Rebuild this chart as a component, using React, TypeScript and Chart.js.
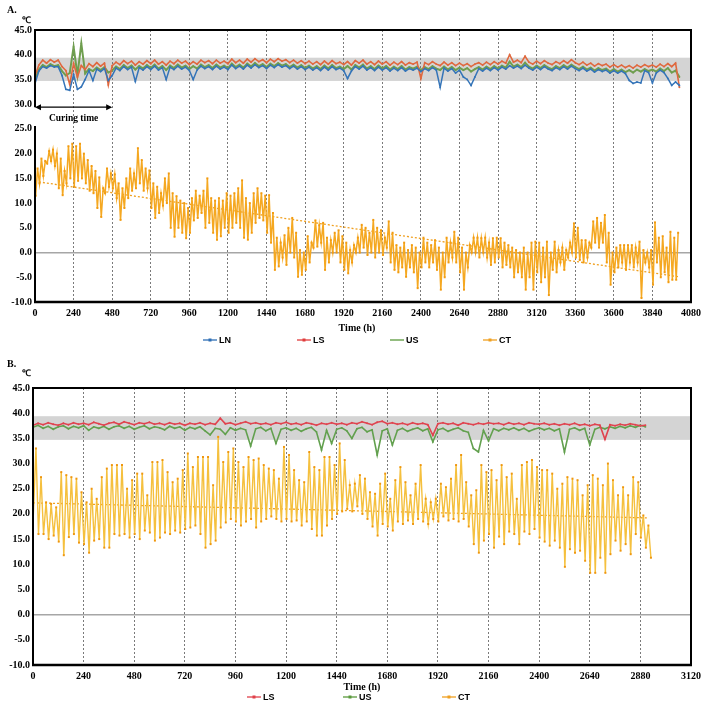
import React, { useEffect, useRef } from "react";
import { Chart, registerables } from "chart.js";
Chart.register(...registerables);

// ---------------- data ----------------
const STEP_H = 24; // one reading per day per array entry
const X_TICK_STEP = 240;
const Y_MIN = -10;
const Y_MAX = 45;
const Y_TICK_STEP = 5;
const BAND = [34.7, 39.4]; // shaded normal range (℃)

// Panel A
const A_X_MAX = 4080;
const A_LN = [
  34.2, 36.7, 37.6, 37.3, 37.8, 37.5, 37.6, 35.8, 33.0, 32.8,
  36.0, 33.0, 33.5, 35.0, 36.8, 34.8, 37.1, 36.6, 37.2, 34.8,
  35.8, 37.3, 36.8, 37.6, 37.0, 37.5, 34.6, 37.4, 36.9, 37.6,
  37.0, 37.7, 36.9, 37.4, 35.0, 37.5, 37.0, 37.7, 37.1, 37.5,
  36.8, 35.0, 36.9, 37.7, 37.2, 37.6, 37.0, 37.7, 37.1, 37.5,
  37.0, 37.9, 37.2, 37.7, 37.1, 37.9, 37.3, 38.0, 37.4, 37.8,
  37.2, 37.9, 37.4, 38.0, 37.5, 37.8, 37.2, 37.7, 37.1, 37.6,
  37.0, 37.5, 36.9, 37.4, 36.8, 37.5, 36.9, 37.6, 37.0, 37.3,
  36.8, 35.2, 36.7, 37.6, 37.1, 37.7, 36.9, 37.4, 36.8, 37.5,
  36.9, 37.4, 36.7, 37.3, 36.8, 37.4, 36.7, 37.2, 36.9, 37.3,
  36.6, 37.2, 36.8, 37.4, 36.9, 33.4, 37.3, 36.7, 37.2, 36.3,
  36.9, 35.5, 35.0, 33.8, 35.5, 37.2, 36.7, 37.3, 36.8, 37.4,
  36.9, 37.5, 37.1, 37.8, 37.3, 37.7, 37.2, 37.9, 37.3, 36.9,
  37.5, 37.0, 37.6, 37.1, 36.8, 37.4, 37.0, 37.6, 37.1, 37.7,
  37.2, 36.8, 37.3, 36.7, 37.1, 36.5, 37.0, 36.6, 36.9, 36.3,
  36.8, 36.3, 36.7, 36.2, 34.8, 34.2, 34.5, 34.3, 36.8, 36.4,
  34.3, 36.3, 36.9, 36.4, 35.2, 33.8, 34.5, 33.8,
];
const A_LS = [
  35.8, 37.9, 38.9, 38.3, 39.0, 38.5, 38.9, 37.6, 36.8, 34.0,
  38.2, 35.5, 37.8, 37.0, 38.2, 37.6, 38.4, 37.7, 38.3, 33.9,
  37.8, 38.5, 38.0, 38.8, 38.2, 38.7, 37.9, 38.6, 38.1, 38.8,
  38.2, 38.9, 38.1, 38.6, 37.9, 38.7, 38.2, 38.9, 38.3, 38.7,
  38.0, 38.6, 38.1, 38.9, 38.4, 38.8, 38.2, 38.9, 38.3, 38.7,
  38.2, 39.1, 38.4, 38.9, 38.3, 39.1, 38.5, 39.2, 38.6, 39.0,
  38.4, 39.1, 38.6, 39.2, 38.7, 39.0, 38.4, 38.9, 38.3, 38.8,
  38.2, 38.7, 38.1, 38.6, 38.0, 38.7, 38.1, 38.8, 38.2, 38.5,
  38.0, 38.6, 37.9, 38.8, 38.3, 38.9, 38.1, 38.6, 38.0, 38.7,
  38.1, 38.6, 37.9, 38.5, 38.0, 38.6, 37.9, 38.4, 38.1, 38.5,
  35.2, 38.4, 38.0, 38.6, 38.1, 37.8, 38.5, 37.9, 38.4, 37.8,
  38.3, 37.8, 38.2, 37.6, 38.1, 38.4, 37.9, 38.5, 38.0, 38.6,
  38.1, 38.7, 38.3, 40.0, 38.5, 38.9, 38.4, 39.7, 38.5, 38.1,
  38.7, 38.2, 38.8, 38.3, 38.0, 38.6, 38.2, 38.8, 38.3, 39.0,
  38.4, 38.0, 38.5, 37.9, 38.3, 37.7, 38.2, 37.8, 38.1, 37.5,
  38.0, 37.5, 37.9, 37.4, 37.8, 37.3, 37.9, 37.5, 38.0, 37.6,
  37.9, 37.5, 38.1, 37.6, 38.2, 37.6, 38.3, 33.4,
];
const A_US = [
  35.0, 37.0, 37.9, 37.5, 38.1, 37.7, 37.9, 36.7, 35.8, 36.3,
  41.6, 35.9, 42.3, 36.2, 37.1, 36.7, 37.4, 36.9, 37.5, 36.4,
  36.8, 37.6, 37.1, 37.9, 37.3, 37.8, 37.0, 37.7, 37.2, 37.9,
  37.3, 38.0, 37.2, 37.7, 36.9, 37.8, 37.3, 38.0, 37.4, 37.8,
  37.1, 37.7, 37.2, 38.0, 37.5, 37.9, 37.3, 38.0, 37.4, 37.8,
  37.3, 38.2, 37.5, 38.0, 37.4, 38.2, 37.6, 38.3, 37.7, 38.1,
  37.5, 38.2, 37.7, 38.3, 37.8, 38.1, 37.5, 38.0, 37.4, 37.9,
  37.3, 37.8, 37.2, 37.7, 37.1, 37.8, 37.2, 37.9, 37.3, 37.6,
  37.1, 37.7, 37.0, 37.9, 37.4, 38.0, 37.2, 37.7, 37.1, 37.8,
  37.2, 37.7, 37.0, 37.6, 37.1, 37.7, 37.0, 37.5, 37.2, 37.6,
  36.9, 37.5, 37.1, 37.7, 37.2, 36.9, 37.6, 37.0, 37.5, 36.9,
  37.4, 36.9, 37.3, 36.6, 37.1, 37.5, 37.0, 37.6, 37.1, 37.7,
  37.2, 37.8, 37.4, 38.6, 37.6, 38.0, 37.5, 38.4, 37.6, 37.2,
  37.8, 37.3, 37.9, 37.4, 37.1, 37.7, 37.3, 37.9, 37.4, 38.0,
  37.5, 37.1, 37.6, 37.0, 37.4, 36.8, 37.3, 36.9, 37.2, 36.6,
  37.1, 36.6, 37.0, 36.5, 36.9, 36.4, 37.0, 36.6, 37.1, 36.7,
  37.0, 36.6, 37.2, 36.7, 37.3, 36.4, 36.8, 35.5,
];
const A_CT_LOW = [
  11.5, 14, 15.5, 18, 18.5, 17.5, 13, 11.6, 14, 15,
  13.3, 14.5, 15, 14, 12.5, 12, 9, 7.2, 12, 13.3,
  13, 11, 6.6, 9, 11, 12.5, 13, 14, 12.5, 13,
  9, 7, 8, 9.5, 10, 5, 3.2, 5, 4, 2.9,
  4, 6.5, 7, 8, 5, 6, 4, 2.6, 3.3, 5,
  4, 5, 6, 5, 3, 2.6, 4, 6, 7, 6.5,
  4, 2, -3.5, -2.8, -1, -2.5, 0, -1, -4.9, -4.5,
  -3.5, -2, 1, 1.2, 2, -3.5, -2, 0, 0, -2,
  -3.5, -4.2, -2, 0, 0, 1, -0.5, 0, -1, 0,
  -0.5, 1, -2, -3.5, -4, -3, -4.9, -3, -4, -7.2,
  -3, -2, -3, -2, -3.5, -7.5, -5, -2, -1, -2,
  -4, -7.5, -3, 0, 0, -1, 0, -1, -2.5, -2,
  -1, -3, -2.5, -3, -5, -4, -5, -7.5, -5, -7.5,
  -4, -6, -5, -8.6, -3.5, -4, -2, -3.5, -1, 0,
  -1, -1.5, -2, -1, 1, 2, 1, 2, -2, -6.5,
  -4, -3, -2, -3.5, -2, -3, -2, -9.2, -2, -3,
  -6.5, -2, -5, -4, -6, -5.5, -5.5,
];
const A_CT_HIGH = [
  17, 19, 18.5, 20.5, 20.8, 20, 19, 16.5, 21.5, 22,
  21.5, 22, 20, 18.7, 17.5, 16.5, 15.2, 13, 17, 16,
  15.8, 14, 13, 15, 17, 16, 21.1, 18.7, 17, 16.6,
  14, 13.3, 12, 15, 16, 12, 11.4, 10.5, 10, 9,
  11, 12.5, 11.5, 12.5, 15, 11, 10.5, 11, 10.5, 12,
  11.5, 12, 13, 14.6, 11, 10, 12, 13, 12, 11.5,
  11.6, 8, 3, 2, 3.5, 5, 7, 4, 0.5, 0,
  3.3, 2, 6.5, 5.5, 6, 3, 2.5, 4, 4.5, 3.3,
  2, 0.5, 1.5, 3, 5.6, 5, 4, 6.6, 5, 4.5,
  3, 6.3, 4, 1.5, 1, 2, 0.5, 1.5, 1, 0,
  3, 2, 1.5, 2.5, 1, 0, 3, 2, 4.2, 3,
  1, 0, 1.5, 3, 3, 2.9, 3, 2, 2.9, 3,
  2.9, 2, 1.5, 1, 0.5, 0, 1, 0, 2, 2.2,
  2, 1, 2.2, 0, 2.2, 0.5, 1, 0.5, 2, 5.9,
  5, 2.5, 2.5, 2, 6.3, 7, 6, 7.6, 4, 0,
  1, 1.5, 1.5, 1.5, 1.5, 1, 2.2, 0.5, 0, 0.5,
  6.1, 3, 3.3, 1, 4.2, 3, 4,
];
const A_CT_LOW_HOUR = 4;
const A_CT_HIGH_HOUR = 16;
const A_TREND_H = [0, 4006];
const A_TREND = [14.4, -4.9];
const CURING_H = [0, 480];
const CURING_LEVEL = 29.4;
const A_AXIS_BREAK = [29.4, 25.6];

// Panel B
const B_X_MAX = 3120;
const B_LS = [
  37.6, 38.0, 37.7, 38.1, 37.8, 37.6, 38.0, 37.7, 38.1, 37.8,
  38.0, 37.7, 38.2, 37.9, 37.6, 38.0, 38.2, 37.8, 38.3, 38.0,
  37.7, 38.1, 37.9, 38.2, 37.8, 38.0, 37.7, 38.1, 37.8, 38.0,
  37.6, 38.0, 37.8, 38.1, 37.7, 38.0, 37.8, 39.0, 37.9, 38.1,
  37.7, 38.0, 38.3, 37.9, 38.1, 37.8, 38.0, 37.7, 38.1, 37.9,
  38.2, 37.8, 38.0, 37.7, 38.1, 37.9, 37.6, 38.0, 37.8, 38.1,
  37.8, 38.0, 37.7, 38.1, 37.9, 38.3, 38.0, 37.7, 38.2, 38.4,
  37.9, 38.1, 37.8, 38.0, 37.7, 38.1, 37.8, 38.0, 37.7, 35.6,
  37.9, 38.1, 37.8, 38.0, 37.6, 38.1, 37.9, 37.7, 38.0, 37.8,
  38.1, 37.9, 38.0, 37.7, 38.1, 37.8, 38.0, 37.7, 38.1, 37.9,
  37.8, 38.0, 37.7, 37.9, 37.6, 37.9, 37.7, 38.0, 37.6, 37.8,
  37.5, 37.8, 37.6, 34.8, 37.7, 37.5, 37.8, 37.6, 37.9, 37.7,
  37.5, 37.6,
];
const B_US = [
  37.2, 37.6, 37.0, 37.4, 36.8, 37.3, 37.5, 36.9, 37.4, 37.1,
  37.5, 36.6, 37.3, 37.0, 37.4, 36.8, 37.3, 37.5, 37.0, 37.4,
  36.8, 37.2, 37.5, 36.9, 37.3, 37.1, 36.7, 37.4, 37.0, 37.3,
  36.6, 37.2, 36.9, 37.3, 36.5, 35.7, 37.0, 36.8, 35.8, 37.1,
  36.6, 37.0, 36.7, 33.5, 36.9, 37.2, 36.5, 37.0, 34.0, 36.8,
  37.1, 36.6, 37.0, 36.4, 36.9, 37.2, 36.3, 32.7, 36.6, 34.0,
  36.8, 37.1, 36.5, 35.0, 36.9, 37.2, 36.3, 36.7, 31.7, 36.5,
  36.9, 33.7, 36.6, 37.0, 36.4, 36.8, 37.1, 36.5, 36.9, 34.3,
  36.7, 37.0, 36.4, 36.8, 37.1, 36.5, 36.2, 33.0, 32.3, 36.6,
  34.5, 36.9, 36.5, 37.0, 36.7, 37.1, 36.6, 37.0, 36.4, 36.8,
  37.1, 36.7, 37.0, 36.5, 36.9, 32.3, 36.8, 37.1, 36.6, 37.0,
  33.7, 36.8, 37.2, 36.9, 37.3, 37.0, 37.4, 37.1, 37.5, 37.2,
  37.6, 37.3,
];
const B_CT_START = 18;
const B_CT_HIGH = [
  33.0, 27.3, 22.3, 22.0, 21.3, 28.3, 27.7, 27.3, 27.0, 24.3,
  22.3, 25.0, 23.0, 27.3, 29.0, 29.7, 29.7, 29.7, 25.0, 26.7,
  28.0, 28.0, 23.7, 30.3, 30.3, 30.7, 28.3, 26.3, 27.0, 28.7,
  32.0, 29.3, 31.3, 31.3, 31.3, 25.7, 35.3, 30.3, 32.3, 33.0,
  30.3, 29.3, 31.3, 30.7, 31.0, 29.7, 29.0, 28.7, 27.0, 33.3,
  31.7, 28.7, 26.7, 26.3, 32.3, 29.3, 28.7, 31.3, 31.3, 29.7,
  34.0, 30.7, 25.7, 26.0, 27.7, 27.0, 24.3, 24.0, 26.0, 28.0,
  23.0, 26.7, 29.3, 26.3, 23.7, 26.0, 29.7, 23.0, 22.3, 23.0,
  26.0, 25.3, 27.0, 29.7, 31.7, 26.3, 23.7, 24.7, 29.7, 28.3,
  28.7, 26.7, 29.7, 27.3, 28.0, 23.0, 29.7, 30.3, 30.7, 29.3,
  28.7, 28.7, 28.0, 25.0, 26.0, 27.3, 27.0, 26.7, 23.7, 25.7,
  27.7, 27.0, 25.7, 30.0, 26.7, 23.7, 25.3, 23.7, 27.3, 26.3,
  19.7, 17.7,
];
const B_CT_LOW = [
  16, 16, 15, 15.7, 14.5, 11.8, 15.4, 16, 14.3, 14,
  12.3, 14.7, 15, 13.3, 13.3, 16, 15.7, 16, 15.3, 16,
  15, 16.7, 16.3, 14.7, 15.3, 16.3, 16, 16.7, 16.3, 17,
  17.3, 17.7, 16, 13.3, 14, 14.7, 17.3, 18.3, 19, 18.5,
  17.7, 18.5, 19, 17.3, 18.5, 19, 19.5, 19, 18.5, 19,
  18.5, 18.7, 17.7, 18.5, 17, 15.7, 15.7, 17.7, 19, 20,
  20.5, 21, 20.5, 21.5, 20, 19, 17.5, 15.7, 18, 17.5,
  16.7, 18.5, 18, 18.7, 18, 19, 18.5, 18, 19, 18.5,
  19.5, 18.7, 19, 18.5, 19, 17.5, 14, 12.3, 14.7, 16,
  13.3, 15.5, 14, 16.5, 16, 14, 16.5, 16, 17, 15.3,
  14.5, 13.7, 14.7, 13.3, 9.5, 13, 12.3, 12.7, 10.7, 8.3,
  8.3, 11.3, 8.3, 12, 14.7, 12.7, 14, 12, 16, 15.3,
  13.3, 11.3,
];
const B_CT_HIGH_HOUR = 14;
const B_CT_LOW_HOUR = 26;
const B_TREND_H = [0, 2920];
const B_TREND = [22.2, 19.2];

// ---------------- helpers ----------------
type Pt = { x: number; y: number };
const daily = (vals: number[], offset = 0): Pt[] =>
  vals.map((v, i) => ({ x: i * STEP_H + offset, y: v }));
const pairs = (first: number[], fOff: number, second: number[], sOff: number): Pt[] => {
  const out: Pt[] = [];
  first.forEach((v, i) => {
    out.push({ x: i * STEP_H + fOff, y: v });
    if (second[i] !== undefined) out.push({ x: i * STEP_H + sOff, y: second[i] });
  });
  return out;
};
const xyPairs = (xs: number[], ys: number[]): Pt[] => xs.map((x, i) => ({ x, y: ys[i] }));

const SERIF = '"Liberation Serif", "Times New Roman", serif';
const SANS = '"Liberation Sans", Arial, sans-serif';

const lineDs = (label: string, data: Pt[], color: string, width = 1.6) => ({
  label,
  data,
  borderColor: color,
  backgroundColor: color,
  borderWidth: width,
  pointRadius: 0.9,
  pointBackgroundColor: color,
  pointBorderWidth: 0,
  tension: 0,
  fill: false,
});
const ctDs = (data: Pt[], line: string, point: string, width: number) => ({
  label: "CT",
  data,
  borderColor: line,
  backgroundColor: point,
  borderWidth: width,
  pointRadius: 1.4,
  pointStyle: "rect",
  pointBackgroundColor: point,
  pointBorderColor: point,
  pointBorderWidth: 0,
  tension: 0,
  fill: false,
});
const trendDs = (data: Pt[]) => ({
  label: "trend",
  data,
  borderColor: "#f0a020",
  borderWidth: 1.3,
  borderDash: [2, 2],
  pointRadius: 0,
  tension: 0,
  fill: false,
});

type LegendItem = { text: string; color: string; x: number; marker: boolean };
type PanelCfg = {
  xMax: number;
  padTop: number;
  yWidth: number;
  xHeight: number;
  datasets: any[];
  label: string;
  labelPos: [number, number];
  unitPos: [number, number];
  xTitlePos: [number, number];
  legend: LegendItem[];
  legendY: number;
  axisBreak: number[] | null;
  curing: boolean;
};

function makeConfig(cfg: PanelCfg): any {
  const tickFont = { family: SERIF, weight: "bold" as const, size: 10 };
  const decor = {
    id: "decor",
    beforeDraw(chart: any) {
      const { ctx, chartArea: a, scales } = chart;
      const y = scales.y;
      ctx.save();
      ctx.fillStyle = "#ffffff";
      ctx.fillRect(0, 0, chart.width, chart.height);
      const yt = y.getPixelForValue(BAND[1]);
      const yb = y.getPixelForValue(BAND[0]);
      ctx.fillStyle = "#d4d4d4";
      ctx.fillRect(a.left, yt, a.right - a.left, yb - yt);
      ctx.restore();
    },
    afterDraw(chart: any) {
      const { ctx, chartArea: a, scales } = chart;
      const x = scales.x;
      const y = scales.y;
      ctx.save();
      ctx.strokeStyle = "#000";
      ctx.lineWidth = 2;
      ctx.beginPath();
      ctx.moveTo(a.left - 1, a.top);
      ctx.lineTo(a.right, a.top);
      ctx.lineTo(a.right, a.bottom);
      ctx.stroke();
      ctx.lineWidth = 2.5;
      ctx.beginPath();
      ctx.moveTo(a.left - 1, a.bottom);
      ctx.lineTo(a.right + 1, a.bottom);
      ctx.stroke();
      ctx.lineWidth = 2;
      ctx.beginPath();
      if (cfg.axisBreak) {
        const y1 = y.getPixelForValue(cfg.axisBreak[0]);
        const y2 = y.getPixelForValue(cfg.axisBreak[1]);
        ctx.moveTo(a.left, a.top - 1);
        ctx.lineTo(a.left, y1);
        ctx.moveTo(a.left, y2);
        ctx.lineTo(a.left, a.bottom);
      } else {
        ctx.moveTo(a.left, a.top - 1);
        ctx.lineTo(a.left, a.bottom);
      }
      ctx.stroke();

      if (cfg.curing) {
        const x0 = x.getPixelForValue(CURING_H[0]);
        const x1 = x.getPixelForValue(CURING_H[1]);
        const yy = y.getPixelForValue(CURING_LEVEL);
        ctx.lineWidth = 1.3;
        ctx.beginPath();
        ctx.moveTo(x0 + 2, yy);
        ctx.lineTo(x1 - 2, yy);
        ctx.stroke();
        ctx.fillStyle = "#000";
        ctx.beginPath();
        ctx.moveTo(x0, yy);
        ctx.lineTo(x0 + 6, yy - 3);
        ctx.lineTo(x0 + 6, yy + 3);
        ctx.closePath();
        ctx.fill();
        ctx.beginPath();
        ctx.moveTo(x1, yy);
        ctx.lineTo(x1 - 6, yy - 3);
        ctx.lineTo(x1 - 6, yy + 3);
        ctx.closePath();
        ctx.fill();
        ctx.font = `bold 9.5px ${SERIF}`;
        ctx.textAlign = "center";
        ctx.textBaseline = "middle";
        ctx.fillText("Curing time", (x0 + x1) / 2, yy + 11);
      }

      ctx.fillStyle = "#000";
      ctx.textBaseline = "middle";
      ctx.textAlign = "left";
      ctx.font = `bold 10px ${SERIF}`;
      ctx.fillText(cfg.label, cfg.labelPos[0], cfg.labelPos[1]);
      ctx.font = `bold 9px ${SERIF}`;
      ctx.fillText("℃", cfg.unitPos[0], cfg.unitPos[1]);

      ctx.textAlign = "center";
      ctx.font = `bold 10px ${SERIF}`;
      ctx.fillText("Time (h)", cfg.xTitlePos[0], cfg.xTitlePos[1]);

      ctx.font = `bold 9px ${SANS}`;
      ctx.textAlign = "left";
      cfg.legend.forEach((it) => {
        ctx.strokeStyle = it.color;
        ctx.lineWidth = 1.3;
        ctx.beginPath();
        ctx.moveTo(it.x, cfg.legendY);
        ctx.lineTo(it.x + 14, cfg.legendY);
        ctx.stroke();
        if (it.marker) {
          ctx.fillStyle = it.color;
          ctx.fillRect(it.x + 5.5, cfg.legendY - 1.5, 3, 3);
        }
        ctx.fillStyle = "#000";
        ctx.fillText(it.text, it.x + 16, cfg.legendY + 0.5);
      });
      ctx.restore();
    },
  };

  return {
    type: "line",
    data: { datasets: cfg.datasets },
    options: {
      animation: false,
      responsive: false,
      devicePixelRatio: 1,
      events: [],
      layout: { padding: { top: cfg.padTop, right: 14, left: 0, bottom: 0 } },
      plugins: { legend: { display: false }, tooltip: { enabled: false } },
      scales: {
        x: {
          type: "linear",
          min: 0,
          max: cfg.xMax,
          afterFit: (s: any) => {
            s.height = cfg.xHeight;
          },
          ticks: {
            stepSize: X_TICK_STEP,
            autoSkip: false,
            maxRotation: 0,
            padding: 5,
            color: "#000",
            font: tickFont,
            callback: (v: any) => String(Math.round(Number(v))),
          },
          grid: {
            drawTicks: false,
            lineWidth: 1,
            color: (c: any) =>
              c.tick && (c.tick.value === 0 || c.tick.value === cfg.xMax)
                ? "rgba(0,0,0,0)"
                : "#7a7a7a",
          },
          border: { display: false, dash: [2, 2] },
        },
        y: {
          type: "linear",
          min: Y_MIN,
          max: Y_MAX,
          afterFit: (s: any) => {
            s.width = cfg.yWidth;
          },
          ticks: {
            stepSize: Y_TICK_STEP,
            padding: 3,
            color: "#000",
            font: tickFont,
            callback: (v: any) => Number(v).toFixed(1),
          },
          grid: {
            drawTicks: false,
            lineWidth: 1.5,
            color: (c: any) => (c.tick && c.tick.value === 0 ? "#a6a6a6" : "rgba(0,0,0,0)"),
          },
          border: { display: false },
        },
      },
    },
    plugins: [decor],
  };
}

export default function App() {
  const refA = useRef<HTMLCanvasElement | null>(null);
  const refB = useRef<HTMLCanvasElement | null>(null);

  useEffect(() => {
    const cfgA: PanelCfg = {
      xMax: A_X_MAX,
      padTop: 30,
      yWidth: 35,
      xHeight: 54,
      datasets: [
        lineDs("LN", daily(A_LN), "#3474b8", 1.5),
        lineDs("LS", daily(A_LS), "#e0683e", 1.6),
        lineDs("US", daily(A_US), "#6f9e4f", 2),
        ctDs(pairs(A_CT_LOW, A_CT_LOW_HOUR, A_CT_HIGH, A_CT_HIGH_HOUR), "#f5a821", "#f29b10", 1.5),
        trendDs(xyPairs(A_TREND_H, A_TREND)),
      ],
      label: "A.",
      labelPos: [7, 10],
      unitPos: [22, 21],
      xTitlePos: [357, 328],
      legend: [
        { text: "LN", color: "#2e6fb5", x: 203, marker: true },
        { text: "LS", color: "#e03c3c", x: 297, marker: true },
        { text: "US", color: "#5a9a3c", x: 390, marker: false },
        { text: "CT", color: "#f0a020", x: 483, marker: true },
      ],
      legendY: 340,
      axisBreak: A_AXIS_BREAK,
      curing: true,
    };
    const cfgB: PanelCfg = {
      xMax: B_X_MAX,
      padTop: 32,
      yWidth: 33,
      xHeight: 42,
      datasets: [
        lineDs("LS", daily(B_LS), "#e0434f", 1.6),
        lineDs("US", daily(B_US), "#62a04e", 1.6),
        ctDs(
          [{ x: 0, y: B_CT_START }, ...pairs(B_CT_HIGH, B_CT_HIGH_HOUR, B_CT_LOW, B_CT_LOW_HOUR)],
          "#f5c03e",
          "#ef960e",
          1.4
        ),
        trendDs(xyPairs(B_TREND_H, B_TREND)),
      ],
      label: "B.",
      labelPos: [7, 8],
      unitPos: [22, 18],
      xTitlePos: [362, 331],
      legend: [
        { text: "LS", color: "#e0404a", x: 247, marker: true },
        { text: "US", color: "#5a9a3c", x: 343, marker: true },
        { text: "CT", color: "#f0a020", x: 442, marker: true },
      ],
      legendY: 341,
      axisBreak: null,
      curing: false,
    };
    const chartA = new Chart(refA.current as HTMLCanvasElement, makeConfig(cfgA));
    const chartB = new Chart(refB.current as HTMLCanvasElement, makeConfig(cfgB));
    return () => {
      chartA.destroy();
      chartB.destroy();
    };
  }, []);

  return (
    <div style={{ position: "absolute", left: 0, top: 0, width: 706, height: 707, background: "#fff" }}>
      <canvas ref={refA} width={706} height={356} style={{ display: "block", position: "absolute", left: 0, top: 0 }} />
      <canvas ref={refB} width={706} height={351} style={{ display: "block", position: "absolute", left: 0, top: 356 }} />
    </div>
  );
}
